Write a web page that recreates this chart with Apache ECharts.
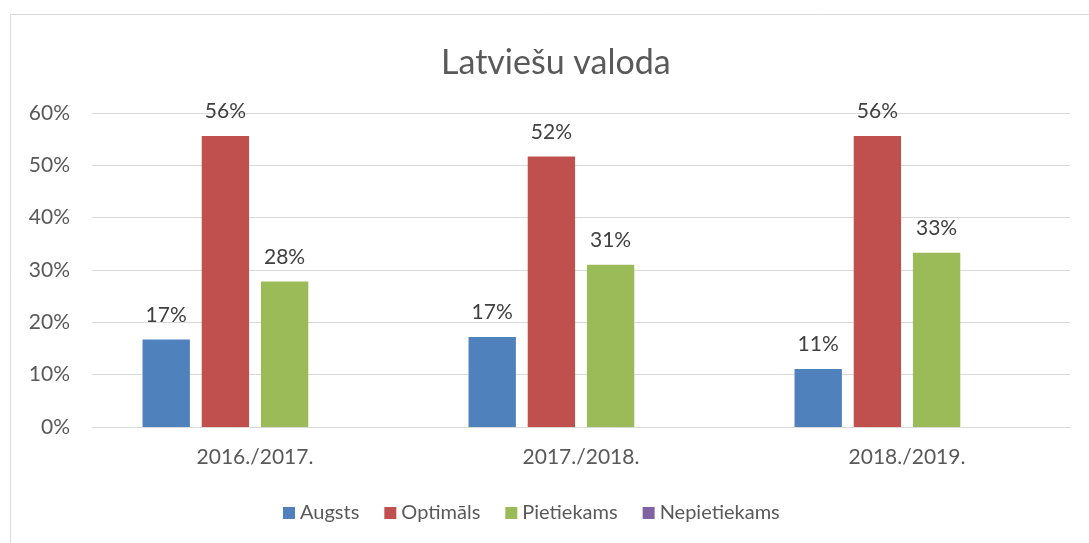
<!DOCTYPE html>
<html>
<head>
    <meta charset="utf-8">
    <title>Latviešu valoda</title>
    <script src="https://cdn.jsdelivr.net/npm/echarts@6/dist/echarts.min.js"></script>
    <style>
        html, body { margin: 0; padding: 0; background: #fff; }
        #container { width: 1089px; height: 543px; }
    </style>
</head>
<body>
<div id="container"></div>
<script type="text/javascript">
    // dati
    var years = ['2016./2017.', '2017./2018.', '2018./2019.'];
    var augsts = [16.7, 17.2, 11.1];
    var optimals = [55.6, 51.7, 55.6];
    var pietiekams = [27.8, 31.0, 33.3];
    var nepietiekams = [0, 0, 0];
    var yTicks = [0, 10, 20, 30, 40, 50, 60];

    var font = 'Lato, "Liberation Sans", sans-serif';
    var myChart = echarts.init(document.getElementById('container'));

    function barSeries(name, data, color, showLabel) {
        return {
            name: name,
            type: 'bar',
            data: data,
            barGap: '25%',
            barCategoryGap: '31%',
            itemStyle: { color: color },
            label: {
                show: showLabel,
                position: 'top',
                distance: 14,
                color: '#404040',
                fontFamily: font,
                fontSize: 21,
                formatter: function (p) { return Math.round(p.value) + '%'; }
            }
        };
    }

    var option = {
        animation: false,
        backgroundColor: '#ffffff',
        graphic: [{
            type: 'rect',
            shape: { x: 10.5, y: 14.5, width: 1200, height: 700 },
            style: { fill: 'none', stroke: '#d9d9d9', lineWidth: 1 },
            silent: true
        }],
        title: {
            text: 'Latviešu valoda',
            left: 436,
            top: 41,
            textStyle: { color: '#595959', fontFamily: font, fontSize: 34, fontWeight: 'normal' }
        },
        legend: {
            bottom: 15,
            left: 278,
            itemWidth: 12,
            itemHeight: 12,
            itemGap: 25,
            icon: 'rect',
            textStyle: { color: '#595959', fontFamily: font, fontSize: 20 },
            data: ['Augsts', 'Optimāls', 'Pietiekams', 'Nepietiekams']
        },
        grid: { left: 92, right: 19, top: 113, bottom: 116 },
        xAxis: {
            type: 'category',
            data: years,
            axisLine: { lineStyle: { color: '#d9d9d9', width: 1 } },
            axisTick: { show: false },
            axisLabel: { color: '#595959', fontFamily: font, fontSize: 21, margin: 20 }
        },
        yAxis: {
            type: 'value',
            min: yTicks[0],
            max: yTicks[yTicks.length - 1],
            interval: 10,
            axisLine: { show: false },
            axisTick: { show: false },
            splitLine: { lineStyle: { color: '#d9d9d9', width: 1 } },
            axisLabel: { color: '#595959', fontFamily: font, fontSize: 21, margin: 22, formatter: '{value}%' }
        },
        series: [
            barSeries('Augsts', augsts, '#4f81bd', true),
            barSeries('Optimāls', optimals, '#c0504d', true),
            barSeries('Pietiekams', pietiekams, '#9bbb59', true),
            barSeries('Nepietiekams', nepietiekams, '#8064a2', false)
        ]
    };
    myChart.setOption(option);
</script>
</body>
</html>
